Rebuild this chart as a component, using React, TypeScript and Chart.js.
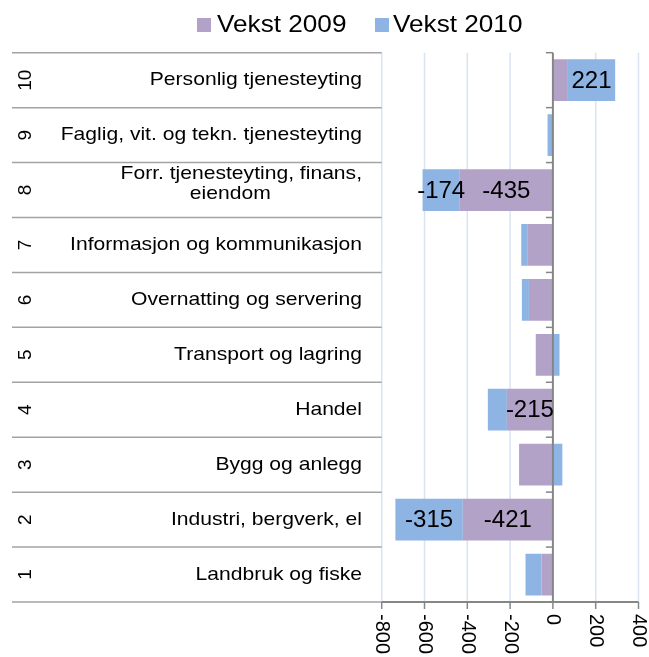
import React, { useEffect, useRef } from "react";
import { Chart, registerables } from "chart.js";

Chart.register(...registerables);

const categoryNumbers = ["1", "2", "3", "4", "5", "6", "7", "8", "9", "10"];
const categoryNames: string[][] = [
  ["Landbruk og fiske"],
  ["Industri, bergverk, el"],
  ["Bygg og anlegg"],
  ["Handel"],
  ["Transport og lagring"],
  ["Overnatting og servering"],
  ["Informasjon og kommunikasjon"],
  ["Forr. tjenesteyting, finans,", "eiendom"],
  ["Faglig, vit. og tekn. tjenesteyting"],
  ["Personlig tjenesteyting"],
];
const seriesNames = ["Vekst 2009", "Vekst 2010"];
const vekst2009 = [-53, -421, -158, -215, -80, -112, -120, -435, -4, 70];
const vekst2010 = [-75, -315, 44, -89, 31, -33, -28, -174, -21, 221];
const xTicks = [-800, -600, -400, -200, 0, 200, 400];

const COLORS = ["#b3a2c7", "#8db4e2"];
const FONT = '"Liberation Sans", Arial, sans-serif';

function drawText(
  ctx: CanvasRenderingContext2D,
  text: string,
  x: number,
  y: number,
  size: number,
  align: CanvasTextAlign,
  sx = 1,
  rot = 0
) {
  ctx.save();
  ctx.translate(x, y);
  if (rot) ctx.rotate(rot);
  ctx.scale(sx, 1);
  ctx.font = `${size}px ${FONT}`;
  ctx.textAlign = align;
  ctx.textBaseline = "middle";
  ctx.fillStyle = "#000";
  ctx.fillText(text, 0, 0);
  ctx.restore();
}

function line(ctx: CanvasRenderingContext2D, x1: number, y1: number, x2: number, y2: number, color: string, w: number) {
  ctx.save();
  ctx.strokeStyle = color;
  ctx.lineWidth = w;
  ctx.beginPath();
  ctx.moveTo(x1, y1);
  ctx.lineTo(x2, y2);
  ctx.stroke();
  ctx.restore();
}

const decorPlugin = {
  id: "decor",
  beforeDatasetsDraw(chart: any) {
    const { ctx, chartArea, scales } = chart;
    xTicks.forEach((t) => {
      if (t === 0) return;
      const x = scales.x.getPixelForValue(t);
      line(ctx, x, chartArea.top, x, chartArea.bottom, "#d9e3f1", 1.5);
    });
  },
  afterDatasetsDraw(chart: any) {
    const { ctx, chartArea, scales } = chart;
    const { top, bottom, left, right } = chartArea;
    const n = categoryNumbers.length;
    const rowH = (bottom - top) / n;
    const x0 = scales.x.getPixelForValue(0);

    // table lines on the left
    for (let i = 0; i <= n; i++) {
      const y = top + i * rowH;
      line(ctx, 12, y, left, y, "#a3a3a3", 1.5);
    }
    // value axis (at 0)
    line(ctx, x0, top, x0, bottom, "#868686", 2);
    for (let i = 0; i <= n; i++) {
      const y = top + i * rowH;
      line(ctx, x0 - 7, y, x0, y, "#868686", 1.5);
    }
    // bottom axis
    line(ctx, left, bottom, right, bottom, "#868686", 2);
    xTicks.forEach((t) => {
      const x = scales.x.getPixelForValue(t);
      line(ctx, x, bottom, x, bottom + 7, "#868686", 1.5);
      drawText(ctx, String(t), x, bottom + 12, 20, "left", 1, Math.PI / 2);
    });

    // category labels
    categoryNumbers.forEach((num, i) => {
      const yc = scales.y.getPixelForValue(i);
      drawText(ctx, num, 26, yc, 19, "center", 1, -Math.PI / 2);
      const lines = categoryNames[i];
      const sx = 1.11;
      const rightX = 362;
      if (lines.length === 1) {
        drawText(ctx, lines[0], rightX, yc, 19, "right", sx);
      } else {
        ctx.save();
        ctx.font = `19px ${FONT}`;
        const w0 = ctx.measureText(lines[0]).width * sx;
        ctx.restore();
        drawText(ctx, lines[0], rightX, yc - 16, 19, "right", sx);
        drawText(ctx, lines[1], rightX - w0 / 2 - 11, yc + 4, 19, "center", sx);
      }
    });

    // data labels
    chart.data.datasets.forEach((ds: any, di: number) => {
      const meta = chart.getDatasetMeta(di);
      meta.data.forEach((el: any, i: number) => {
        const v = ds.data[i];
        if (Math.abs(v) < 170) return;
        const p = el.getProps(["x", "y", "base"], true);
        drawText(ctx, String(v), (p.x + p.base) / 2, p.y + 1, 24, "center");
      });
    });

    // legend
    const legendItems = [
      { box: 197, text: 217 },
      { box: 375, text: 393 },
    ];
    legendItems.forEach((it, i) => {
      ctx.save();
      ctx.fillStyle = COLORS[i];
      ctx.fillRect(it.box, 18, 14, 14);
      ctx.restore();
      drawText(ctx, seriesNames[i], it.text, 25, 24, "left", 1.09);
    });
  },
};

export default function App() {
  const ref = useRef<HTMLCanvasElement | null>(null);
  useEffect(() => {
    if (!ref.current) return;
    const chart = new Chart(ref.current, {
      type: "bar",
      data: {
        labels: categoryNumbers,
        datasets: [
          { label: seriesNames[0], data: vekst2009, backgroundColor: COLORS[0], stack: "s" },
          { label: seriesNames[1], data: vekst2010, backgroundColor: COLORS[1], stack: "s" },
        ],
      },
      options: {
        indexAxis: "y",
        responsive: false,
        animation: false,
        devicePixelRatio: 1,
        layout: { padding: { left: 381.7, right: 10.5, top: 52.7, bottom: 55 } },
        datasets: { bar: { barPercentage: 0.76, categoryPercentage: 1 } },
        plugins: { legend: { display: false }, tooltip: { enabled: false } },
        scales: {
          x: { display: false, stacked: true, min: -800, max: 400 },
          y: { display: false, stacked: true, reverse: true },
        },
      } as any,
      plugins: [decorPlugin],
    });
    return () => chart.destroy();
  }, []);
  return (
    <div style={{ position: "absolute", left: 0, top: 0, width: 649, height: 657, background: "#fff" }}>
      <canvas ref={ref} width={649} height={657} style={{ display: "block" }} />
    </div>
  );
}
